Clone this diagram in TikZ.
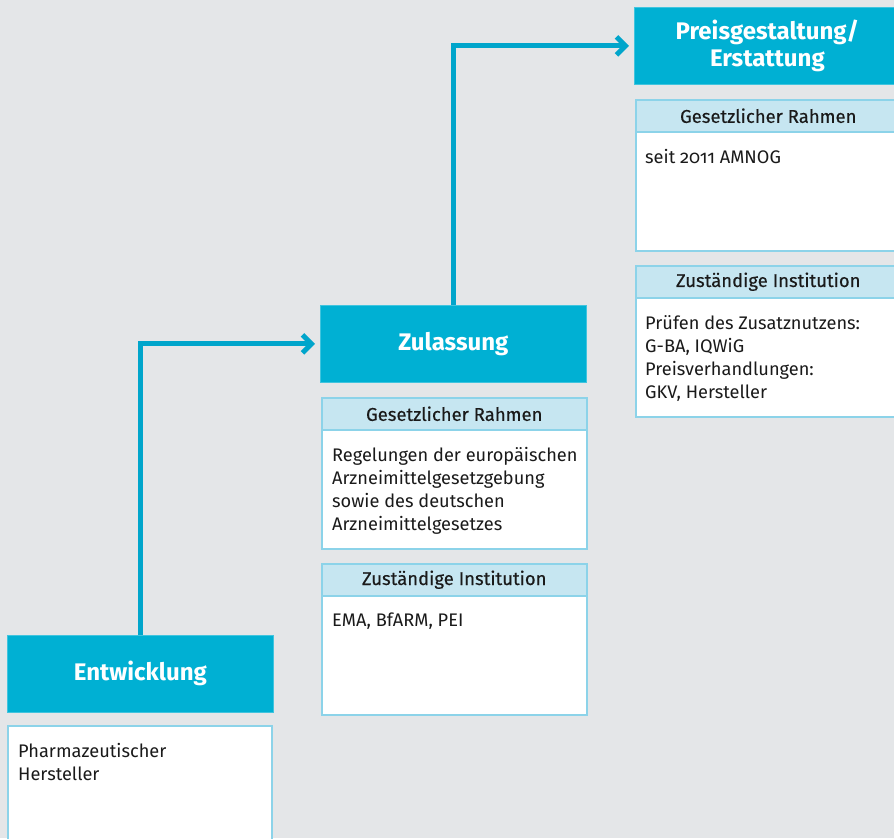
\documentclass[tikz,border=0pt]{standalone}
\usepackage{fontspec}
\setmainfont{Fira Sans}[Numbers=OldStyle]
\newfontfamily\bandfont{Fira Sans}[Numbers=OldStyle, FakeBold=0.4]
\usetikzlibrary{arrows.meta}
\definecolor{bg}{HTML}{E4E6E8}
\definecolor{stagecol}{HTML}{00B0D3}
\definecolor{arrowcol}{HTML}{00A5CB}
\definecolor{bandcol}{HTML}{C6E6F1}
\definecolor{edgecol}{HTML}{8CD3E9}
\definecolor{ink}{HTML}{1A1A1A}
\begin{document}
\begin{tikzpicture}[x=1pt,y=-1pt,
  stage/.style={fill=stagecol, draw=stagecol!75!white, line width=0.8pt, text=white,
    font=\fontsize{24}{27}\selectfont\bfseries, align=center, anchor=north west,
    inner sep=0pt, minimum width=266pt, minimum height=77pt},
  band/.style={fill=bandcol, draw=edgecol, line width=1.5pt, anchor=north west,
    minimum width=265pt, minimum height=32pt, inner sep=0pt, text=ink,
    font=\fontsize{18.5}{20}\bandfont},
  panel/.style={fill=white, draw=edgecol, line width=1.5pt, anchor=north west,
    minimum width=265pt, minimum height=119pt, inner sep=0pt},
  bodytext/.style={anchor=north west, inner sep=0pt, align=left, text=ink,
    font=\fontsize{18.2}{23}\selectfont},
  flow/.style={draw=arrowcol, line width=5pt,
    -{Straight Barb[length=9pt,width=18pt]}, shorten >=5pt}
]
% canvas
\clip (0,0) rectangle (894,838);
\fill[bg] (0,0) rectangle (894,838);

% --- stage 1: Entwicklung
\node[stage] (entw) at (7,635) {Entwicklung};
\node[panel, minimum width=264pt, minimum height=140pt] (entwbody) at (7,725) {};
\node[bodytext] (entwtext) at (18,743) {Pharmazeutischer\\Hersteller};

% --- stage 2: Zulassung
\node[stage] (zul) at (320,305) {Zulassung};
\node[panel] (zulgesbody) at (321,429) {};
\node[band] (zulges) at (321,397) {Gesetzlicher Rahmen};
\node[bodytext] (zulgestext) at (332,447)
  {Regelungen der europäischen\\Arzneimittelgesetzgebung\\sowie des deutschen\\Arzneimittelgesetzes};
\node[panel] (zulinstbody) at (321,595) {};
\node[band] (zulinst) at (321,563) {Zuständige Institution};
\node[bodytext] (zulinsttext) at (332,613) {EMA, BfARM, PEI};

% --- stage 3: Preisgestaltung / Erstattung
\node[stage] (preis) at (634,7) {Preisgestaltung/\\Erstattung};
\node[panel] (preisgesbody) at (635,131) {};
\node[band] (preisges) at (635,99) {Gesetzlicher Rahmen};
\node[bodytext] (preisgestext) at (645,149) {seit 2011 AMNOG};
\node[panel] (preisinstbody) at (635,297) {};
\node[band] (preisinst) at (635,265) {Zuständige Institution};
\node[bodytext] (preisinsttext) at (645,315)
  {Prüfen des Zusatznutzens:\\G-BA, IQWiG\\Preisverhandlungen:\\GKV, Hersteller};

% --- flow between the stages
\draw[flow] (entw.north) |- (zul.west);
\draw[flow] (zul.north) |- (preis.west);
\end{tikzpicture}
\end{document}
